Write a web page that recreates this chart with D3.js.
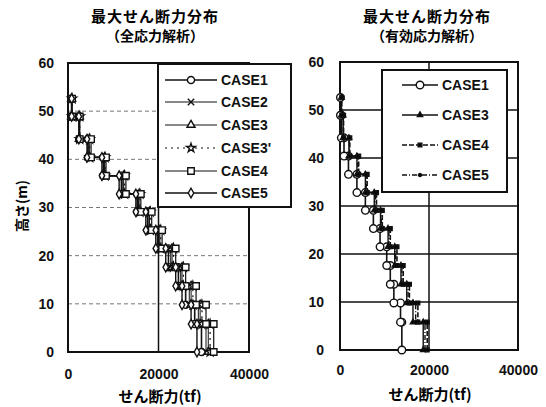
<!DOCTYPE html>
<html><head><meta charset="utf-8">
<script src="https://cdn.jsdelivr.net/npm/d3@7"></script>
<style>body{margin:0;background:#fff}svg{display:block}</style></head>
<body><svg id="c" width="546" height="407"></svg>
<script>
// floor levels (m) — each story spans heights[i]..heights[i+1]
const heights = [0, 5.8, 9.8, 13.7, 17.6, 21.5, 25.3, 29.1, 32.8, 36.6, 40.4, 44.2, 48.9, 52.6];
const yTicks = [0, 10, 20, 30, 40, 50, 60];
const xTicks = [0, 20000, 40000];

// Left: 全応力解析 (story shear, tf, from bottom story upwards)
const leftCases = ["CASE1", "CASE2", "CASE3", "CASE3'", "CASE4", "CASE5"];
const L_CASE1  = [29500, 28000, 26000, 24400, 22200, 19800, 17600, 15300, 11800, 7800, 4400, 2500, 800];
const L_CASE2  = [30500, 28800, 26800, 24900, 22700, 20100, 17900, 15600, 12100, 8000, 4600, 2500, 800];
const L_CASE3  = [31000, 29200, 27200, 25200, 23000, 20300, 18000, 15700, 12300, 8100, 4700, 2500, 800];
const L_CASE3p = [31400, 29600, 27600, 25500, 23300, 20500, 18200, 15900, 12500, 8200, 4800, 2600, 900];
const L_CASE4  = [32200, 30500, 28300, 26000, 23800, 20800, 18500, 16100, 12800, 8400, 5100, 2600, 900];
const L_CASE5  = [28500, 27200, 25200, 23800, 21600, 19400, 17200, 15000, 11300, 7500, 4200, 2400, 800];

// Right: 有効応力解析
const rightCases = ["CASE1", "CASE3", "CASE4", "CASE5"];
const R_CASE1 = [13900, 13600, 12100, 11300, 10500, 9000, 7500, 5700, 3800, 1900, 900, 300, 100];
const R_CASE3 = [18700, 16400, 15000, 13700, 12300, 10800, 9100, 7700, 5700, 3800, 2000, 700, 300];
const R_CASE4 = [19600, 17500, 15600, 14200, 12800, 11300, 9500, 8200, 6100, 4200, 2200, 800, 400];
const R_CASE5 = [19100, 17000, 15300, 13900, 12500, 11000, 9300, 8000, 5900, 4000, 2100, 750, 350];

const titles = [["最大せん断力分布", "（全応力解析）"], ["最大せん断力分布", "（有効応力解析）"]];
const xTitle = "せん断力(tf)";
const yTitle = "高さ(m)";

const svg = d3.select("#c");
const JP = "'Noto Sans CJK JP', sans-serif";
const NUM = "'Liberation Sans', Arial, sans-serif";

function steps(vals) {
  const pts = [];
  vals.forEach((v, i) => { pts.push([v, heights[i]]); pts.push([v, heights[i + 1]]); });
  return pts;
}

const symMap = {
  circle: d3.symbolCircle, times: d3.symbolTimes, triangle: d3.symbolTriangle,
  star: d3.symbolStar, square: d3.symbolSquare, diamond: d3.symbolDiamond
};

const leftStyle = {
  "CASE1":  {sym: "circle", size: 40, dash: null, w: 1.6, fill: "#fff"},
  "CASE2":  {sym: "times", size: 28, dash: null, w: 1.0, fill: "none"},
  "CASE3":  {sym: "triangle", size: 28, dash: null, w: 1.0, fill: "#fff"},
  "CASE3'": {sym: "star", size: 24, dash: "2,4", w: 1.2, fill: "#fff"},
  "CASE4":  {sym: "square", size: 42, dash: null, w: 1.2, fill: "#fff"},
  "CASE5":  {sym: "diamond", size: 26, dash: null, w: 1.4, fill: "#fff"}
};
const rightStyle = {
  "CASE1": {sym: "circle", size: 45, dash: null, w: 1.6, fill: "#fff"},
  "CASE3": {sym: "triangle", size: 12, dash: null, w: 1.4, fill: "#000"},
  "CASE4": {sym: "square", size: 14, dash: "5,2", w: 1.6, fill: "#000"},
  "CASE5": {sym: "circle", size: 8, dash: "5,2,1,2", w: 1.4, fill: "#000"}
};

function drawPanel(opt) {
  const x = d3.scaleLinear().domain([0, 40000]).range(opt.xr);
  const y = d3.scaleLinear().domain([0, 60]).range(opt.yr);
  const g = svg.append("g");

  // grid
  yTicks.filter(t => t > 0 && t < 60).forEach(t => {
    g.append("line").attr("x1", x(0)).attr("x2", x(40000)).attr("y1", y(t)).attr("y2", y(t))
      .attr("stroke", opt.gridColor).attr("stroke-width", opt.gridW)
      .attr("stroke-dasharray", opt.gridDash);
  });
  g.append("line").attr("x1", x(20000)).attr("x2", x(20000)).attr("y1", y(60)).attr("y2", y(0))
    .attr("stroke", "#111").attr("stroke-width", 1.5);

  // frame
  g.append("rect").attr("x", x(0)).attr("y", y(60)).attr("width", x(40000) - x(0)).attr("height", y(0) - y(60))
    .attr("fill", "none").attr("stroke", "#111").attr("stroke-width", 2);

  // axes
  const ya = g.append("g").attr("transform", `translate(${x(0)},0)`)
    .call(d3.axisLeft(y).tickValues(yTicks).tickSize(0).tickPadding(opt.yPad).tickFormat(d3.format("d")));
  ya.select(".domain").remove();
  const xa = g.append("g").attr("transform", `translate(0,${y(0)})`)
    .call(d3.axisBottom(x).tickValues(xTicks).tickSize(0).tickPadding(opt.xPad).tickFormat(d3.format("d")));
  xa.select(".domain").remove();
  g.selectAll(".tick text").attr("font-family", NUM).attr("font-size", 14).attr("font-weight", "bold").attr("fill", "#111");

  // data
  opt.series.forEach(s => {
    const st = opt.style[s.name];
    const pts = steps(s.vals);
    g.append("path").datum(pts)
      .attr("d", d3.line().x(d => x(d[0])).y(d => y(d[1])))
      .attr("fill", "none").attr("stroke", "#111").attr("stroke-width", st.w)
      .attr("stroke-dasharray", st.dash);
  });
  opt.series.forEach(s => {
    const st = opt.style[s.name];
    const pts = steps(s.vals);
    g.selectAll(null).data(pts).enter().append("path")
      .attr("transform", d => `translate(${x(d[0])},${y(d[1])})`)
      .attr("d", d3.symbol().type(symMap[st.sym]).size(st.size))
      .attr("fill", st.fill).attr("stroke", "#111").attr("stroke-width", 1.4);
  });

  // legend
  const lb = opt.legend;
  g.append("rect").attr("x", lb.x).attr("y", lb.y).attr("width", lb.w).attr("height", lb.h)
    .attr("fill", "#fff").attr("stroke", "#111").attr("stroke-width", 2);
  opt.series.forEach((s, i) => {
    const st = opt.style[s.name];
    const ly = lb.rows[i];
    g.append("line").attr("x1", lb.l1).attr("x2", lb.l2).attr("y1", ly).attr("y2", ly)
      .attr("stroke", "#111").attr("stroke-width", st.w).attr("stroke-dasharray", st.dash);
    g.append("path").attr("transform", `translate(${(lb.l1 + lb.l2) / 2},${ly})`)
      .attr("d", d3.symbol().type(symMap[st.sym]).size(st.size))
      .attr("fill", st.fill).attr("stroke", "#111").attr("stroke-width", 1.4);
    g.append("text").attr("x", lb.tx).attr("y", ly).attr("dy", "0.36em")
      .attr("font-family", NUM).attr("font-size", 14).attr("font-weight", "bold").attr("fill", "#111")
      .text(s.name);
  });

  // titles
  g.append("text").attr("x", opt.tx).attr("y", 22).attr("text-anchor", "middle")
    .attr("font-family", JP).attr("font-size", 15).attr("font-weight", "bold").attr("letter-spacing", 1)
    .text(opt.title[0]);
  g.append("text").attr("x", opt.tx).attr("y", 41).attr("text-anchor", "middle")
    .attr("font-family", JP).attr("font-size", 14).attr("font-weight", "bold").attr("letter-spacing", 0)
    .text(opt.title[1]);
  g.append("text").attr("x", opt.xtx).attr("y", opt.xty).attr("text-anchor", "middle")
    .attr("font-family", JP).attr("font-size", 15).attr("font-weight", "bold")
    .text(xTitle);
}

drawPanel({
  xr: [68, 249], yr: [352, 63], yPad: 14, xPad: 17,
  gridColor: "#777", gridW: 1, gridDash: "4,3",
  style: leftStyle,
  series: [
    {name: "CASE1", vals: L_CASE1}, {name: "CASE2", vals: L_CASE2}, {name: "CASE3", vals: L_CASE3},
    {name: "CASE3'", vals: L_CASE3p}, {name: "CASE4", vals: L_CASE4}, {name: "CASE5", vals: L_CASE5}
  ],
  legend: {x: 158, y: 64, w: 133, h: 143, rows: [80, 102, 125, 148, 171, 193], l1: 165, l2: 217, tx: 221},
  title: titles[0], tx: 155, xtx: 160, xty: 402
});

drawPanel({
  xr: [340, 518], yr: [350, 62], yPad: 16, xPad: 15,
  gridColor: "#111", gridW: 1.5, gridDash: null,
  style: rightStyle,
  series: [
    {name: "CASE1", vals: R_CASE1}, {name: "CASE3", vals: R_CASE3},
    {name: "CASE4", vals: R_CASE4}, {name: "CASE5", vals: R_CASE5}
  ],
  legend: {x: 382, y: 70, w: 125, h: 122, rows: [85, 115, 145, 175], l1: 402, l2: 438, tx: 442},
  title: titles[1], tx: 427, xtx: 430, xty: 400
});

// y-axis title (rotated)
svg.append("text").attr("transform", "translate(27,206) rotate(-90)").attr("text-anchor", "middle")
  .attr("font-family", JP).attr("font-size", 14).attr("font-weight", "bold")
  .text(yTitle);
</script>
</body></html>
